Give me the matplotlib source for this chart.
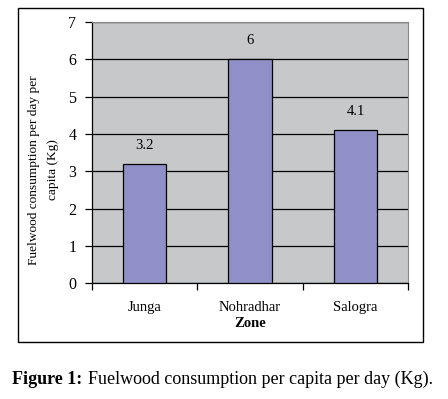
#!/usr/bin/env python3

import matplotlib as mpl
mpl.use("Agg")
import matplotlib.pyplot as plt
from matplotlib.patches import Rectangle

zones = ["Junga", "Nohradhar", "Salogra"]
consumption = [3.2, 6.0, 4.1]
value_labels = ["3.2", "6", "4.1"]
y_ticks = [0, 1, 2, 3, 4, 5, 6, 7]

plt.rcParams['font.family'] = ['Liberation Serif', 'DejaVu Serif']

W, H = 448, 399
fig = plt.figure(figsize=(W / 100, H / 100), dpi=100)

# plot area in pixel coordinates of the reference
left, right, top, bottom = 91.7, 408.3, 22.0, 283.3
ax = fig.add_axes([left / W, 1 - bottom / H, (right - left) / W, (bottom - top) / H])
ax.set_facecolor("#c6c8ca")

x = list(range(len(zones)))
ax.bar(x, consumption, width=0.41, color="#9090c8", edgecolor="black", linewidth=0.9, zorder=3)
for xi, v, lab in zip(x, consumption, value_labels):
    ax.text(xi, v + 0.5, lab, ha="center", va="center", fontsize=10.5, zorder=4)

ax.set_xlim(-0.5, len(zones) - 0.5)
ax.set_ylim(0, 7)
ax.set_yticks(y_ticks)
ax.yaxis.grid(True, color="black", linewidth=0.9, zorder=1)
ax.set_axisbelow(True)

ax.set_xticks([i + 0.5 for i in range(-1, len(zones))], minor=False)
ax.set_xticklabels([])
ax.set_xticks(x, minor=True)
ax.set_xticklabels(zones, minor=True, fontsize=10.5)
ax.tick_params(axis="x", which="major", length=5, width=0.9, direction="out")
ax.tick_params(axis="x", which="minor", length=0, pad=13)
ax.tick_params(axis="y", length=5, width=0.9, pad=6, labelsize=11.5)

for side in ["top", "right"]:
    ax.spines[side].set_color("#888888")
    ax.spines[side].set_linewidth(0.8)
ax.spines["left"].set_linewidth(0.9)
ax.spines["bottom"].set_linewidth(0.9)

ax.set_xlabel("Zone", fontsize=10.5, fontweight="bold", labelpad=2)
ax.set_ylabel("Fuelwood consumption per day per\ncapita (Kg)", fontsize=9.6,
              linespacing=1.85)
ax.yaxis.set_label_coords(-0.102, 0.434)

# outer chart frame
fig.patches.append(Rectangle((17.5 / W, 1 - 341.5 / H), (423.3 - 17.5) / W, (341.5 - 7.7) / H,
                             transform=fig.transFigure, fill=False, edgecolor="black", linewidth=1.0))

fig.text(12 / W, 1 - 379 / H, "Figure 1:", fontsize=13, fontweight="bold", va="center", ha="left")
fig.text(88 / W, 1 - 379 / H, "Fuelwood consumption per capita per day (Kg).", fontsize=13,
         va="center", ha="left")

fig.savefig("out.png", dpi=100)
plt.close(fig)
